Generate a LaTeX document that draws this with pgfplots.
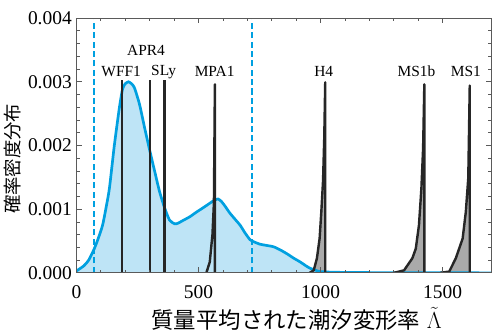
\documentclass[border=0pt]{standalone}
\usepackage{pgfplots}
\pgfplotsset{compat=1.18}
\usepackage{fontspec}
\setmainfont{Liberation Serif}
\newfontfamily\jp{Noto Sans CJK JP}
\definecolor{lblue}{RGB}{0,160,224}
\definecolor{fblue}{RGB}{190,228,246}
\definecolor{fgray}{RGB}{170,170,170}
\definecolor{axgray}{RGB}{90,90,90}
\begin{document}
\begin{tikzpicture}
\begin{axis}[
  scale only axis, width=309.5pt, height=190pt,
  xmin=0, xmax=1700, ymin=0, ymax=0.004,
  xtick={0,500,1000,1500}, minor x tick num=4,
  ytick={0,0.001,0.002,0.003,0.004}, minor y tick num=4,
  scaled y ticks=false,
  /pgf/number format/assume math mode=true,
  xticklabel={\pgfmathprintnumber[1000 sep={}]{\tick}},
  yticklabel={\pgfmathprintnumber[fixed, fixed zerofill, precision=3]{\tick}},
  tick label style={font=\rmfamily\fontsize{14.5}{15}\selectfont},
  xticklabel style={yshift=-5.8pt},
  tick align=inside,
  major tick length=4pt, minor tick length=2.5pt,
  axis line style={axgray, line width=0.8pt},
  tick style={axgray, line width=0.6pt},
  axis on top,
  xlabel={{\jp\fontsize{16.7}{18}\selectfont 質量平均された潮汐変形率}\ \ {\fontsize{16.7}{18}\selectfont$\tilde{\Lambda}$}},
  ylabel={{\jp\fontsize{13.7}{14}\selectfont 確率密度分布}},
  xlabel style={at={(axis description cs:0.5,0)}, anchor=center, yshift=-34pt, xshift=9.5pt},
  ylabel style={yshift=-2pt, xshift=-10pt},
]
% gray distributions
\addplot[fill=fgray, draw=none] coordinates {(532,0) (546,0.00017) (557,0.0006) (563,0.0011) (567,0.00296) (567,0)} \closedcycle;
\addplot[fill=fgray, draw=none] coordinates {(955,0) (972,0.00004) (985,0.00023) (996,0.00054) (1003,0.00096) (1010,0.00144) (1015,0.00212) (1019,0.00299) (1019,0)} \closedcycle;
\addplot[fill=fgray, draw=none] coordinates {(1300,0) (1342,0.00004) (1376,0.00023) (1390,0.00038) (1403,0.00075) (1413,0.00133) (1420,0.00196) (1425,0.00296) (1425,0)} \closedcycle;
\addplot[fill=fgray, draw=none] coordinates {(1490,0) (1527,0.00002) (1554,0.00023) (1582,0.00054) (1595,0.00096) (1605,0.00149) (1611,0.00294) (1611,0)} \closedcycle;
% blue KDE
\addplot[fill=fblue, draw=none, smooth, tension=0.4] coordinates {
(0,0.00003) (30,0.00011) (50,0.0002) (73,0.00038) (90,0.00055) (107,0.00075) (120,0.001) (135,0.00133) (155,0.0020) (176,0.0026) (189,0.00289) (200,0.00297) (213,0.00300) (225,0.00297) (237,0.00291) (258,0.00265) (279,0.00228) (299,0.00194) (320,0.0016) (340,0.00128) (361,0.00102) (381,0.00083) (402,0.00077) (416,0.00078) (440,0.00083) (464,0.00088) (490,0.00095) (518,0.00102) (545,0.00109) (565,0.00114) (580,0.00116) (594,0.00112) (610,0.00104) (628,0.00094) (650,0.00084) (670,0.00075) (690,0.00063) (711,0.00052) (725,0.00049) (752,0.00045) (780,0.00043) (807,0.00041) (835,0.00036) (862,0.0003) (890,0.00023) (917,0.00017) (940,0.00011) (958,0.00007) (980,0.00004) (998,0.00002) (1050,0.00001) (1150,0.000005) (1300,0.000003) (1500,0.000001) (1700,0)} \closedcycle;
\addplot[lblue, line width=2pt, smooth, tension=0.4] coordinates {
(0,0.00003) (30,0.00011) (50,0.0002) (73,0.00038) (90,0.00055) (107,0.00075) (120,0.001) (135,0.00133) (155,0.0020) (176,0.0026) (189,0.00289) (200,0.00297) (213,0.00300) (225,0.00297) (237,0.00291) (258,0.00265) (279,0.00228) (299,0.00194) (320,0.0016) (340,0.00128) (361,0.00102) (381,0.00083) (402,0.00077) (416,0.00078) (440,0.00083) (464,0.00088) (490,0.00095) (518,0.00102) (545,0.00109) (565,0.00114) (580,0.00116) (594,0.00112) (610,0.00104) (628,0.00094) (650,0.00084) (670,0.00075) (690,0.00063) (711,0.00052) (725,0.00049) (752,0.00045) (780,0.00043) (807,0.00041) (835,0.00036) (862,0.0003) (890,0.00023) (917,0.00017) (940,0.00011) (958,0.00007) (980,0.00004) (998,0.00002) (1050,0.00001) (1150,0.000005) (1300,0.000003) (1500,0.000001) (1700,0)};
% dashed bounds
\addplot[lblue, line width=1.4pt, dash pattern=on 4.5pt off 2.5pt] coordinates {(73,0) (73,0.004)};
\addplot[lblue, line width=1.4pt, dash pattern=on 4.5pt off 2.5pt] coordinates {(720,0) (720,0.004)};
% black outlines
\addplot[black!85, line width=1.8pt, line join=round] coordinates {(532,0) (546,0.00017) (557,0.0006) (563,0.0011) (567,0.00296) (567,0)};
\addplot[black!85, line width=1.8pt, line join=round] coordinates {(955,0) (972,0.00004) (985,0.00023) (996,0.00054) (1003,0.00096) (1010,0.00144) (1015,0.00212) (1019,0.00299) (1019,0)};
\addplot[black!85, line width=1.8pt, line join=round] coordinates {(1300,0) (1342,0.00004) (1376,0.00023) (1390,0.00038) (1403,0.00075) (1413,0.00133) (1420,0.00196) (1425,0.00296) (1425,0)};
\addplot[black!85, line width=1.8pt, line join=round] coordinates {(1490,0) (1527,0.00002) (1554,0.00023) (1582,0.00054) (1595,0.00096) (1605,0.00149) (1611,0.00294) (1611,0)};
\addplot[black!85, line width=1.8pt] coordinates {(186,0) (186,0.00303)};
\addplot[black!85, line width=1.8pt] coordinates {(300,0) (300,0.00303)};
\addplot[black!85, line width=1.8pt] coordinates {(360,0) (360,0.00303)};
% labels
\begin{scope}[every node/.style={font=\fontsize{11.5}{12}\selectfont, inner sep=0pt}]
\node at (axis cs:183,0.00316) {WFF1};
\node at (axis cs:285,0.00349) {APR4};
\node at (axis cs:357,0.00316) {SLy};
\node at (axis cs:566,0.00316) {MPA1};
\node at (axis cs:1013,0.00316) {H4};
\node at (axis cs:1393,0.00316) {MS1b};
\node at (axis cs:1595,0.00316) {MS1};
\end{scope}
\end{axis}
\path ([yshift=13.5pt]current axis.north);
\end{tikzpicture}
\end{document}
